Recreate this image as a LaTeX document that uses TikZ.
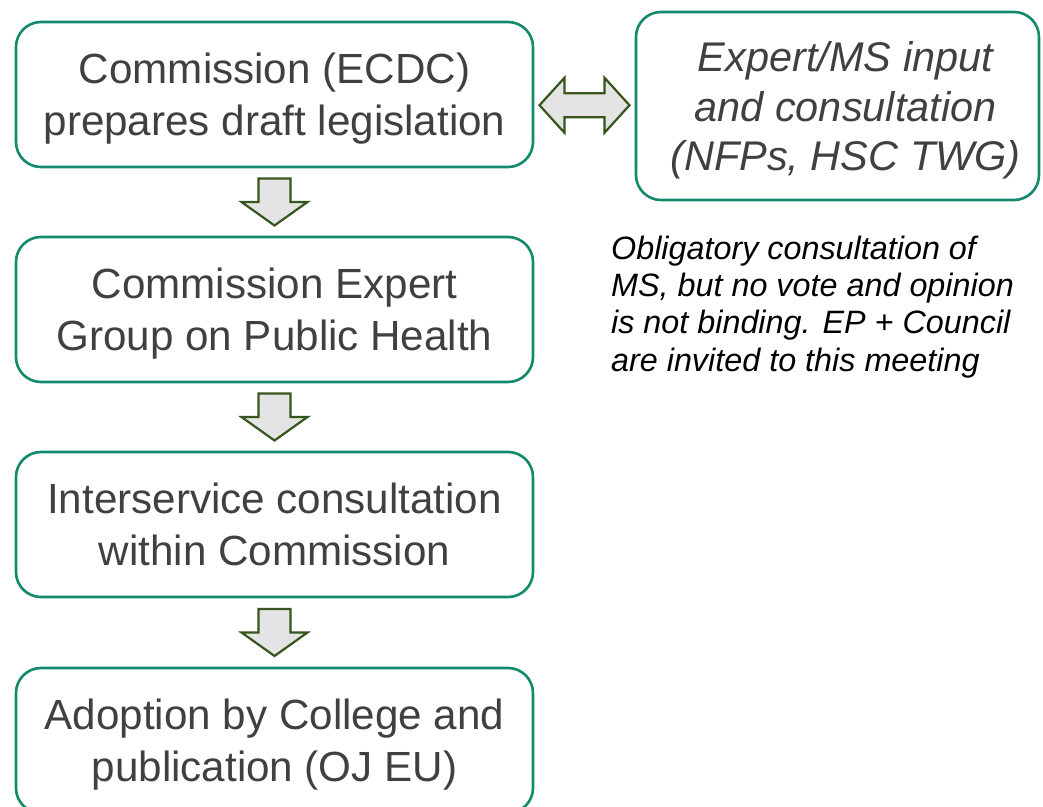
\documentclass[tikz,border=0pt]{standalone}
\usepackage{fontspec}
\setmainfont{Liberation Sans}
\usepackage{xcolor}
\usetikzlibrary{calc, positioning}

\definecolor{boxgreen}{RGB}{20,138,108}
\definecolor{arrowgreen}{RGB}{55,86,30}
\definecolor{arrowfill}{RGB}{228,228,228}
\definecolor{textgray}{RGB}{64,64,64}

\tikzset{
  stage/.style={draw=boxgreen, line width=1.3mm, rounded corners=12.5mm,
    minimum width=258.5mm, minimum height=72.5mm, align=center, text depth=0pt,
    text=textgray, font=\fontsize{60}{74}\selectfont},
  blockarrow/.style={draw=arrowgreen, fill=arrowfill, line width=1.1mm, line join=miter},
  blockdown/.pic={
    \draw[blockarrow] (-16,-23.5) -- (16,-23.5) -- (16,0) -- (33,0) -- (0,23.5)
      -- (-33,0) -- (-16,0) -- cycle;
  },
  blockboth/.pic={
    \draw[blockarrow] (-45,0) -- (-20,-27.5) -- (-20,-12) -- (20,-12) -- (20,-27.5)
      -- (45,0) -- (20,27.5) -- (20,12) -- (-20,12) -- (-20,27.5) -- cycle;
  }
}

\begin{document}
\begin{tikzpicture}[x=0.5mm, y=-0.5mm]
    \useasboundingbox (0,0) rectangle (1043,806);

    % Main procedure boxes
    \node[stage] (draft) at (274.5,94.5) {Commission (ECDC)\\prepares draft legislation};
    \node[stage] (group) at (274.5,309.5) {Commission Expert\\Group on Public Health};
    \node[stage] (isc) at (274.5,524.5) {Interservice consultation\\within Commission};
    \node[stage] (adopt) at (274.5,740.5) {Adoption by College and\\publication (OJ EU)};

    % Consultation box on the right
    \node[stage, minimum width=201.5mm, minimum height=94mm,
      font=\fontsize{59}{71}\selectfont\itshape] (expert) at (837.5,106)
      {\hspace*{8mm}Expert/MS input\\\hspace*{8mm}and consultation\\\hspace*{8mm}(NFPs, HSC TWG)};

    % Note below it
    \node[anchor=west, align=left, text=black, inner sep=0pt,
      font=\fontsize{46}{53}\selectfont\itshape] (note) at (611,307)
      {Obligatory consultation of\\MS, but no vote and opinion\\is not binding. EP + Council\\are invited to this meeting};

    % Block arrows between the boxes
    \pic at ($(draft.south)!0.5!(group.north)$) {blockdown};
    \pic at ($(group.south)!0.5!(isc.north)$) {blockdown};
    \pic at ($(isc.south)!0.5!(adopt.north)$) {blockdown};
    \pic at ($(draft.east)!0.5!(expert.west)+(0,5)$) {blockboth};

\end{tikzpicture}
\end{document}
